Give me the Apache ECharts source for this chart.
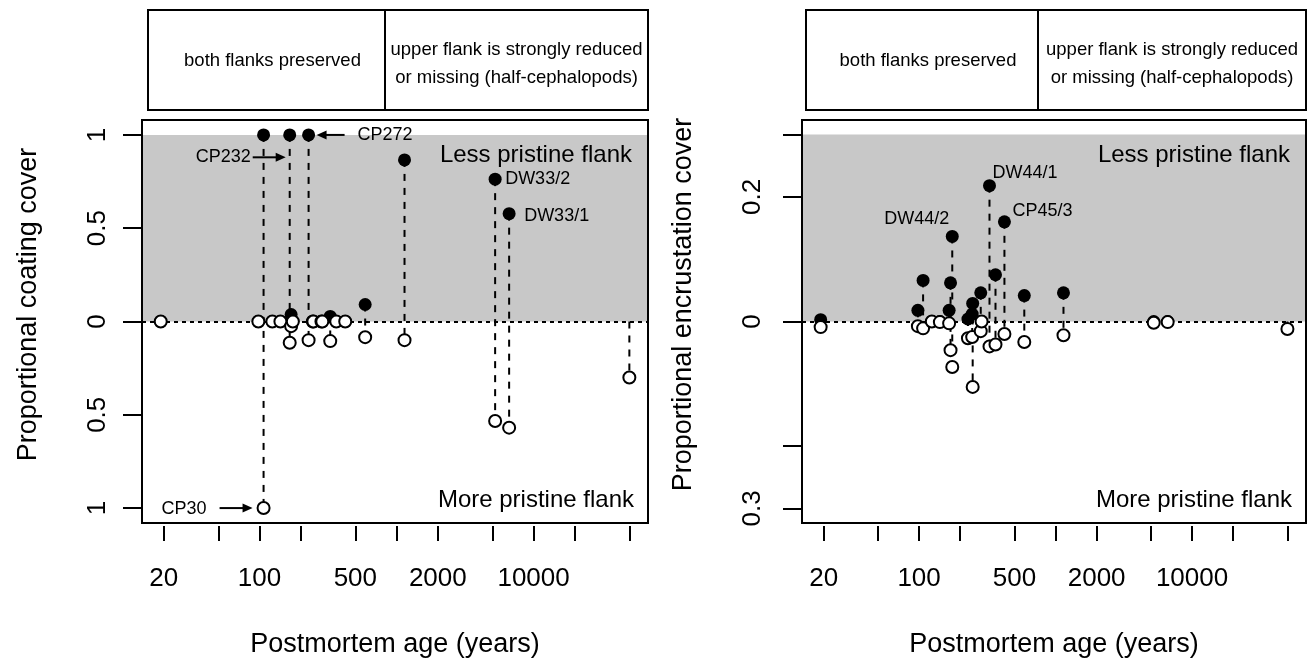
<!DOCTYPE html>
<html><head><meta charset="utf-8">
<script src="https://cdn.jsdelivr.net/npm/echarts@6/dist/echarts.min.js"></script>
<style>html,body{margin:0;padding:0;background:#fff}#c{width:1314px;height:664px}</style>
</head><body><div id="c"></div>
<script>
// ---------------- data ----------------
const ages     = [19, 98, 107, 124, 142, 166, 170, 175, 228, 245, 247, 283, 287, 328, 363, 422, 590, 1143, 5240, 6630, 50000];
const coatLess = [0, 0, 1, 0, 0, 1, 0.037, 0, 1, 0, 0, 0, 0, 0.027, 0, 0, 0.091, 0.866, 0.763, 0.578, null];
const coatMore = [0, 0, 1, 0, 0, 0.114, 0.025, 0, 0.10, 0, 0, 0, 0, 0.105, 0, 0, 0.084, 0.10, 0.533, 0.569, 0.30];
const encLess  = [0.003, 0.018, 0.066, 0, 0, 0.018, 0.062, 0.1365, 0.004, 0.012, 0.029, 0.046, 0, 0.218, 0.075, 0.160, 0.0416, 0.046, 0, 0, null];
const encMore  = [0.009, 0.0075, 0.011, 0, 0.001, 0.003, 0.046, 0.073, 0.027, 0.025, 0.105, 0.0155, 0, 0.040, 0.037, 0.020, 0.033, 0.022, 0.002, 0.001, 0.012];

const xTickValues   = [20, 50, 100, 200, 500, 1000, 2000, 5000, 10000, 20000, 50000];
const xLabelValues  = [20, 100, 500, 2000, 10000];
const coatTickValues  = [-1, -0.5, 0, 0.5, 1];
const coatLabelValues = [-1, -0.5, 0, 0.5, 1];
const encTickValues   = [-0.3, -0.2, 0, 0.2, 0.3];
const encLabelValues  = [-0.3, 0, 0.2];
const coatShadeTop = 1, encShadeTop = 0.3;
const coatLimit = 1.08, encLimit = 0.3234;
const xMin = 13.87, xMax = 68400;

// annotations: text, specimen index, value where the note points
const coatNotes = [
  {text: 'CP232', i: 5, value: 0.88},
  {text: 'CP272', i: 8, value: coatLess[8]},
  {text: 'CP30',  i: 2, value: -coatMore[2]},
  {text: 'DW33/2', i: 18, value: coatLess[18]},
  {text: 'DW33/1', i: 19, value: coatLess[19]}
];
const encNotes = [
  {text: 'DW44/1', i: 13, value: encLess[13]},
  {text: 'CP45/3', i: 15, value: encLess[15]},
  {text: 'DW44/2', i: 7,  value: encLess[7]}
];
const panelTitles = ['Proportional coating cover', 'Proportional encrustation cover'];
const xTitle = 'Postmortem age (years)';
const headerLeft = 'both flanks preserved';
const headerRight = 'upper flank is strongly reduced\nor missing (half-cephalopods)';

// ---------------- layout / style ----------------
const FONT = "'Liberation Sans', Arial, Helvetica, sans-serif";
const grids = [
  {left: 142, top: 120, width: 506, height: 403},
  {left: 802, top: 120, width: 504, height: 403}
];
const coatNoteStyle = [
  {arrow: [-37, -4], dx: -39, dy: 0, align: 'right'},
  {arrow: [36, 8], dx: 49, dy: 0, align: 'left'},
  {arrow: [-44, -11], dx: -57, dy: 1, align: 'right'},
  {arrow: null, dx: 10, dy: 0, align: 'left'},
  {arrow: null, dx: 15, dy: 2, align: 'left'}
];
const encNoteStyle = [
  {arrow: null, dx: 3, dy: -13, align: 'left'},
  {arrow: null, dx: 8, dy: -11, align: 'left'},
  {arrow: null, dx: -3, dy: -17, align: 'right'}
];

const chart = echarts.init(document.getElementById('c'), null, {renderer: 'canvas'});

function xAxisFor(g) {
  return {
    type: 'log', logBase: 10, gridIndex: g, min: xMin, max: xMax, offset: 3, position: 'bottom',
    axisLine: {show: false, onZero: false}, splitLine: {show: false},
    axisTick: {show: true, length: 15, customValues: xTickValues, lineStyle: {color: '#000', width: 2}},
    axisLabel: {customValues: xLabelValues, margin: 40, fontSize: 26, color: '#000', fontFamily: FONT,
      formatter: v => String(Math.round(v))},
    name: xTitle, nameLocation: 'middle', nameGap: 105,
    nameTextStyle: {fontSize: 27, color: '#000', fontFamily: FONT}
  };
}
function yAxisFor(g, lim, ticks, labels, title, margin, gap) {
  return {
    type: 'value', gridIndex: g, min: -lim, max: lim,
    axisLine: {show: false, onZero: false}, splitLine: {show: false},
    axisTick: {show: true, length: 19, customValues: ticks, lineStyle: {color: '#000', width: 2}},
    axisLabel: {customValues: labels, rotate: 90, margin: margin, fontSize: 26, color: '#000', fontFamily: FONT,
      formatter: v => String(Math.abs(Math.round(v * 1000) / 1000))},
    name: title, nameLocation: 'middle', nameRotate: 90, nameGap: gap,
    nameTextStyle: {fontSize: 27, color: '#000', fontFamily: FONT, padding: [0, 0, 0, 34]}
  };
}

function panelSeries(g, less, more, shadeTop, notes, noteStyle) {
  const segs = [];
  ages.forEach((a, i) => {
    const top = less[i] == null ? 0 : less[i];
    const bot = -more[i];
    if (Math.abs(top - bot) > 1e-9) segs.push([a, top, bot]);
  });
  const filled = [];
  ages.forEach((a, i) => { if (less[i] != null) filled.push([a, less[i]]); });
  const open = ages.map((a, i) => [a, -more[i]]);
  const noteData = notes.map((n, k) => [ages[n.i], n.value, k]);
  return [
    {type: 'line', xAxisIndex: g, yAxisIndex: g, data: [], z: 1, silent: true,
      markArea: {silent: true, itemStyle: {color: '#c8c8c8'}, data: [[{yAxis: 0}, {yAxis: shadeTop}]]}},
    {type: 'line', xAxisIndex: g, yAxisIndex: g, data: [], z: 2, silent: true,
      markLine: {silent: true, symbol: 'none', label: {show: false},
        lineStyle: {color: '#000', width: 2, type: [4, 4]}, data: [{yAxis: 0}]}},
    {type: 'custom', xAxisIndex: g, yAxisIndex: g, z: 3, silent: true, data: segs,
      encode: {x: 0, y: [1, 2]},
      renderItem: (params, api) => {
        const p1 = api.coord([api.value(0), api.value(1)]);
        const p2 = api.coord([api.value(0), api.value(2)]);
        return {type: 'line', shape: {x1: p1[0], y1: p1[1], x2: p2[0], y2: p2[1]},
          style: {stroke: '#000', lineWidth: 2, lineDash: [7, 7]}};
      }},
    {type: 'scatter', xAxisIndex: g, yAxisIndex: g, z: 4, silent: true, data: filled,
      symbol: 'circle', symbolSize: 13, itemStyle: {color: '#000', opacity: 1}},
    {type: 'scatter', xAxisIndex: g, yAxisIndex: g, z: 5, silent: true, data: open,
      symbol: 'circle', symbolSize: 12, itemStyle: {color: '#fff', borderColor: '#000', borderWidth: 2, opacity: 1}},
    {type: 'custom', xAxisIndex: g, yAxisIndex: g, z: 6, silent: true, data: noteData,
      encode: {x: 0, y: 1},
      renderItem: (params, api) => {
        const p = api.coord([api.value(0), api.value(1)]);
        const k = api.value(2);
        const s = noteStyle[k];
        const children = [];
        if (s.arrow) {
          const x1 = p[0] + s.arrow[0], x2 = p[0] + s.arrow[1], y = p[1];
          const dir = Math.sign(x2 - x1);
          children.push({type: 'line', shape: {x1: x1, y1: y, x2: x2 - dir * 6, y2: y},
            style: {stroke: '#000', lineWidth: 2}});
          children.push({type: 'polygon', shape: {points: [[x2, y], [x2 - dir * 10, y - 4.5], [x2 - dir * 10, y + 4.5]]},
            style: {fill: '#000'}});
        }
        children.push({type: 'text', style: {text: notes[k].text, x: p[0] + s.dx, y: p[1] + s.dy,
          align: s.align, textAlign: s.align, verticalAlign: 'middle', textVerticalAlign: 'middle',
          fontSize: 18, fontFamily: FONT, fill: '#000'}});
        return {type: 'group', children: children};
      }}
  ];
}

function txt(text, x, y, size, align) {
  return {type: 'text', z: 110, x: x, y: y,
    style: {text: text, fontSize: size, fontFamily: FONT, fill: '#000',
      align: align, textAlign: align, verticalAlign: 'middle', textVerticalAlign: 'middle'}};
}
function header(x0, xd, x1) {
  return [
    {type: 'rect', z: 110, shape: {x: x0, y: 10, width: x1 - x0, height: 100}, style: {fill: 'none', stroke: '#000', lineWidth: 2}},
    {type: 'line', z: 110, shape: {x1: xd, y1: 10, x2: xd, y2: 110}, style: {stroke: '#000', lineWidth: 2}},
    txt(headerLeft, (x0 + xd) / 2 + 6, 61, 18.5, 'center'),
    txt(headerRight, (xd + x1) / 2, 64, 18.5, 'center')
  ];
}

const graphic = [];
grids.forEach(gr => {
  graphic.push({type: 'rect', z: 100, shape: {x: gr.left, y: gr.top, width: gr.width, height: gr.height},
    style: {fill: 'none', stroke: '#000', lineWidth: 2}});
  graphic.push(txt('Less pristine flank', gr.left + gr.width - 16, 155, 24, 'right'));
  graphic.push(txt('More pristine flank', gr.left + gr.width - 14, 500, 24, 'right'));
});
header(148, 385, 648).forEach(e => graphic.push(e));
header(806, 1038, 1306).forEach(e => graphic.push(e));
graphic.forEach(e => { if (e.type === 'text' && e.style.text.indexOf('\n') >= 0) e.style.lineHeight = 28; });

chart.setOption({
  animation: false,
  backgroundColor: '#fff',
  textStyle: {fontFamily: FONT},
  grid: grids.map(g => Object.assign({show: false, outerBoundsMode: 'none', containLabel: false}, g)),
  xAxis: [xAxisFor(0), xAxisFor(1)],
  yAxis: [
    yAxisFor(0, coatLimit, coatTickValues, coatLabelValues, panelTitles[0], 31, 100),
    yAxisFor(1, encLimit, encTickValues, encLabelValues, panelTitles[1], 36, 105)
  ],
  series: panelSeries(0, coatLess, coatMore, coatShadeTop, coatNotes, coatNoteStyle)
    .concat(panelSeries(1, encLess, encMore, encShadeTop, encNotes, encNoteStyle)),
  graphic: graphic
});
</script></body></html>
